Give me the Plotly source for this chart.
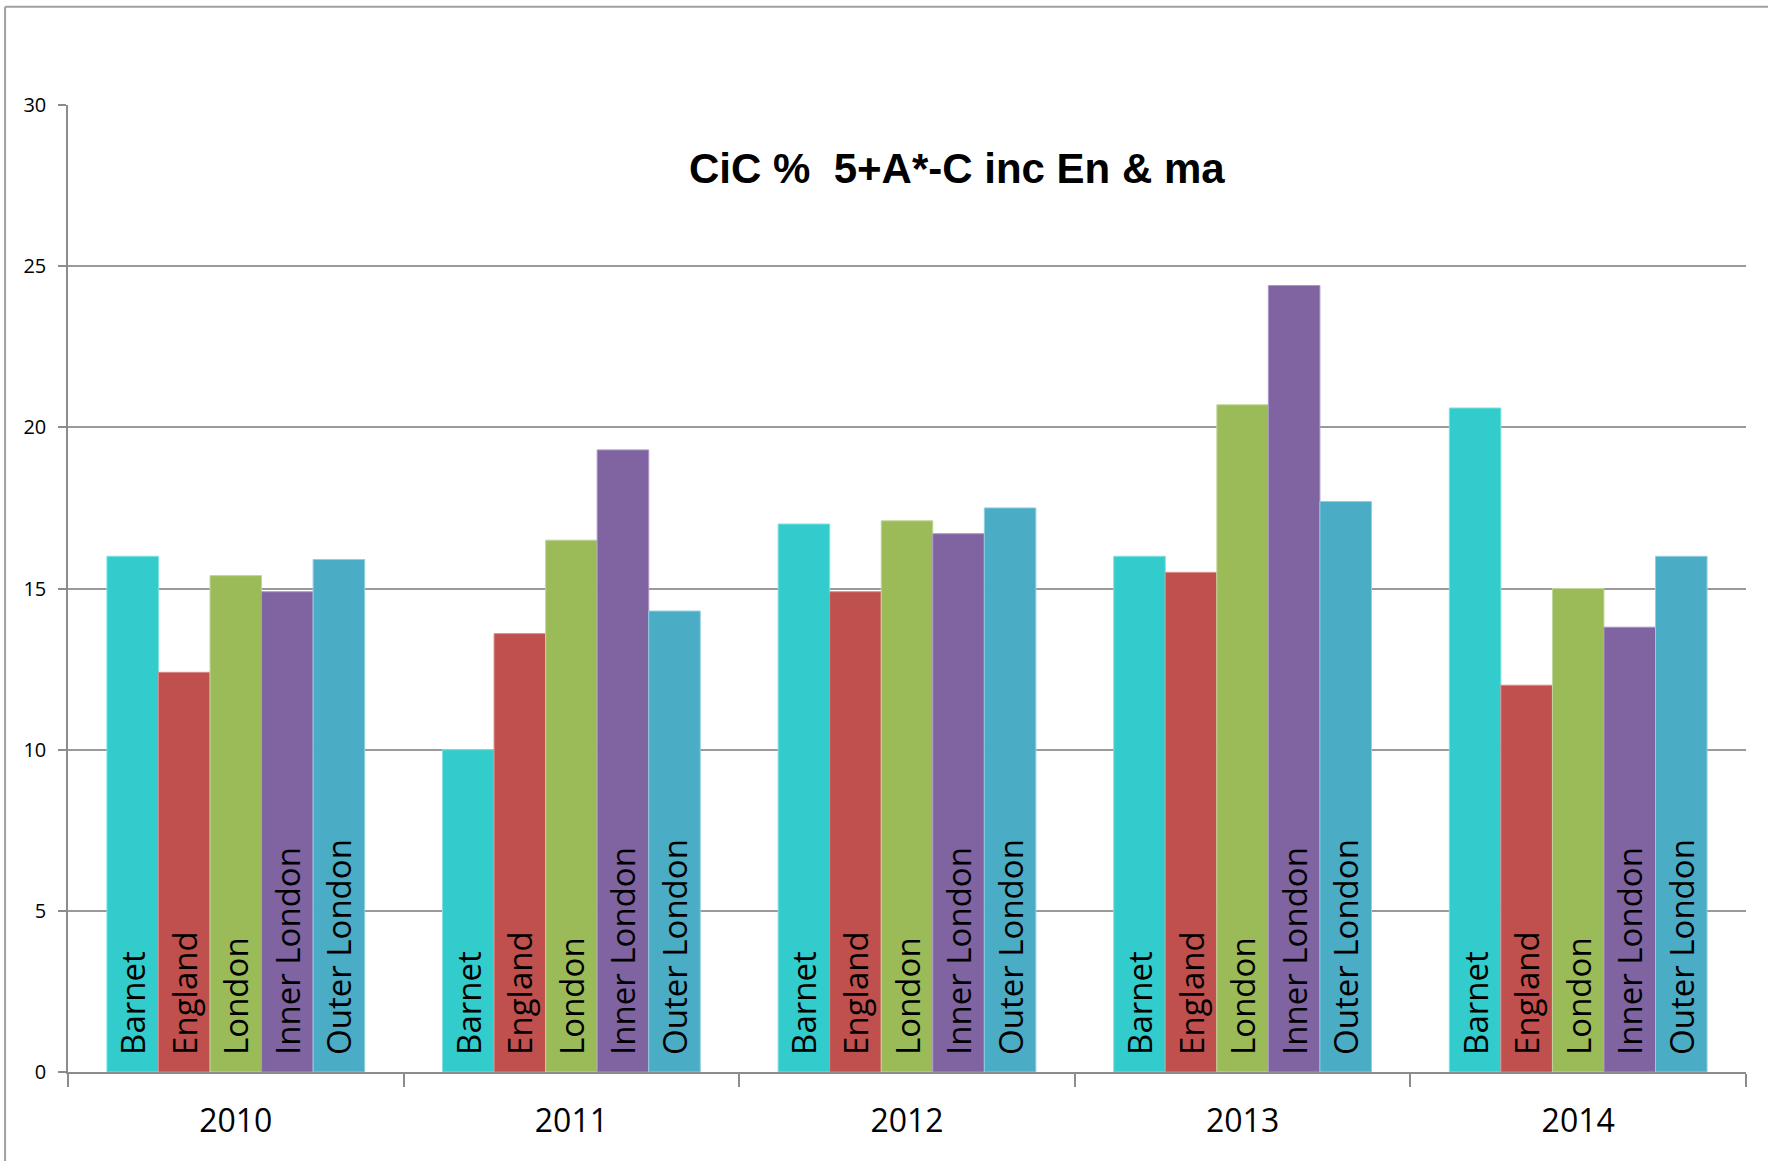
import plotly.graph_objects as go

years = ["2010", "2011", "2012", "2013", "2014"]
series_names = ["Barnet", "England", "London", "Inner London", "Outer London"]
barnet = [16.0, 10.0, 17.0, 16.0, 20.6]
england = [12.4, 13.6, 14.9, 15.5, 12.0]
london = [15.4, 16.5, 17.1, 20.7, 15.0]
inner_london = [14.9, 19.3, 16.7, 24.4, 13.8]
outer_london = [15.9, 14.3, 17.5, 17.7, 16.0]
y_ticks = [0, 5, 10, 15, 20, 25, 30]
title_text = "CiC % \u00a05+A*-C inc En & ma"

values = [barnet, england, london, inner_london, outer_london]
colors = ["#33CCCC", "#C0504D", "#9BBB59", "#8064A2", "#4BACC6"]
edge = ["#7FE0E0", "#D88A88", "#C2D69B", "#A996C4", "#8FCFE0"]

fig = go.Figure()
for name, vals, c, e in zip(series_names, values, colors, edge):
    fig.add_trace(go.Bar(
        x=years, y=vals, name=name,
        marker=dict(color=c, line=dict(color=e, width=1)),
        text=["\u00a0\u2009" + name] * len(vals),
        textposition="inside",
        insidetextanchor="start",
        textangle=-90,
        insidetextfont=dict(family="Open Sans", size=33, color="#000000"),
        hoverinfo="skip",
    ))

fig.update_layout(
    width=1768, height=1161,
    margin=dict(l=68, r=22, t=105, b=89),
    paper_bgcolor="white", plot_bgcolor="white",
    barmode="group", bargap=0.232, bargroupgap=0,
    showlegend=False,
    uniformtext=dict(minsize=33, mode="show"),
    xaxis=dict(
        type="category",
        showline=True, linecolor="#8C8C8C", linewidth=1.5,
        ticks="outside", tickson="boundaries", ticklen=13, tickwidth=1.5, tickcolor="#8C8C8C",
        tickfont=dict(family="Open Sans", size=32, color="#000000"),
        ticklabelstandoff=20,
        showgrid=False,
    ),
    yaxis=dict(
        range=[0, 30], tickvals=y_ticks,
        showline=True, linecolor="#8C8C8C", linewidth=1.5,
        ticks="outside", ticklen=8, tickwidth=1.5, tickcolor="#8C8C8C",
        showgrid=True, gridcolor="#9A9A9A", gridwidth=1.5,
        zeroline=False,
        tickfont=dict(family="Open Sans", size=20, color="#000000"),
        ticklabelstandoff=8,
    ),
    annotations=[dict(
        text="<b>" + title_text + "</b>",
        xref="paper", yref="paper", x=0.530, y=0.934,
        xanchor="center", yanchor="middle", showarrow=False,
        font=dict(family="Liberation Sans", size=42, color="#000000"),
    )],
    shapes=[
        dict(type="line", xref="paper", yref="paper", x0=-0.0375, x1=1.02, y0=1.1017, y1=1.1017,
             line=dict(color="#A0A0A0", width=2)),
        dict(type="line", xref="paper", yref="paper", x0=-0.0375, x1=-0.0375, y0=-0.1, y1=1.1017,
             line=dict(color="#A0A0A0", width=2)),
    ],
)

fig.write_html("out.html", config={"displayModeBar": False},
               post_script="document.body.style.margin='0';")
